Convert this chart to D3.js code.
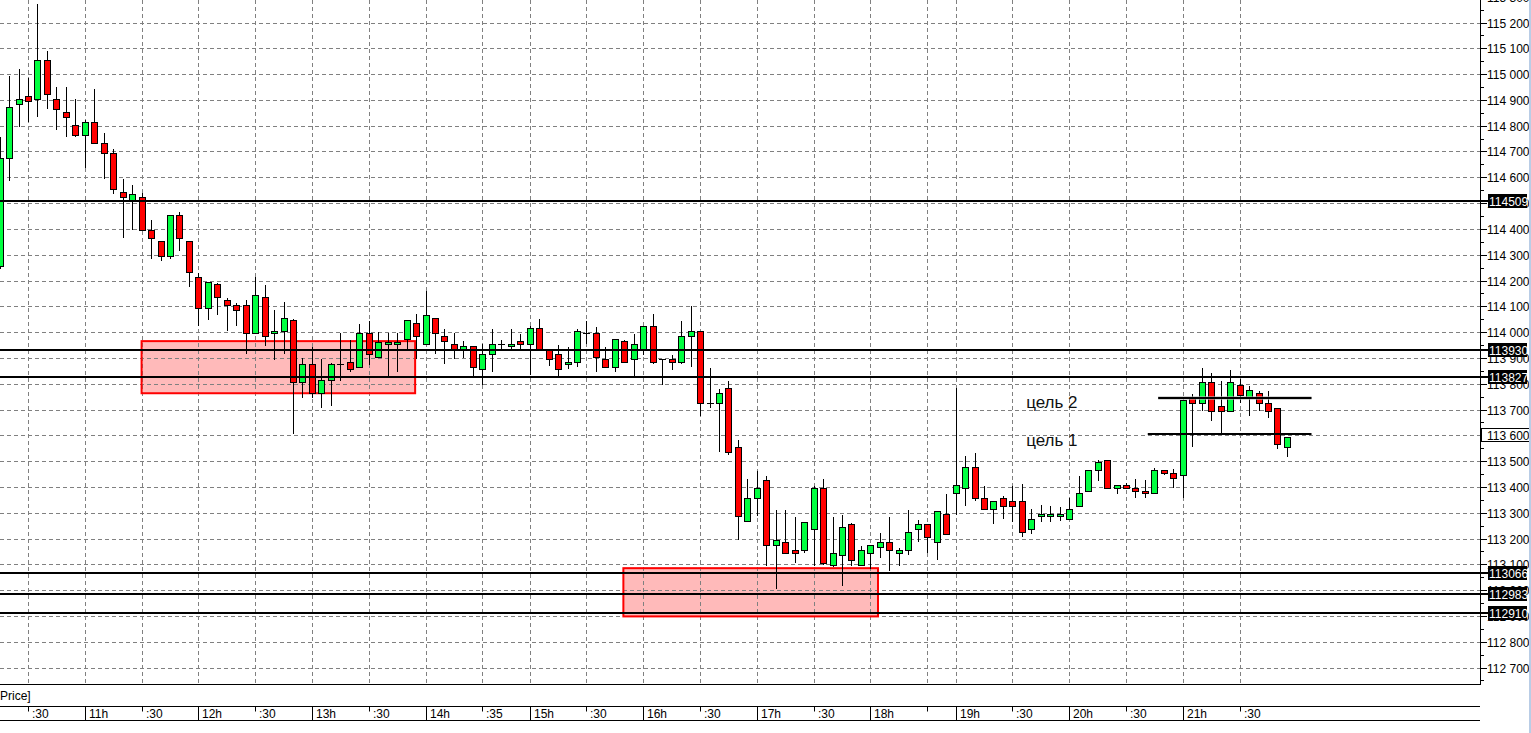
<!DOCTYPE html>
<html><head><meta charset="utf-8">
<script src="https://cdn.jsdelivr.net/npm/d3@7"></script>
<style>html,body{margin:0;padding:0;background:#fff;overflow:hidden}</style>
</head><body>
<svg id="chart" width="1531" height="733"></svg>
<script>
// ---------- data ----------
const openP = [114258,114676,114885,114916,114904,115055,114904,114854,114804,114765,
114815,114734,114695,114544,114509,114524,114397,114354,114296,114455,
114354,114214,114094,114187,114125,114106,114106,113997,114137,113997,
114005,114048,113807,113877,113765,113815,113877,113885,113866,113997,
113904,113955,113955,113974,114036,113955,114055,113986,113955,113935,
113947,113858,113916,113955,113947,113966,113955,114017,113935,113916,
113877,113885,113997,113997,113897,113866,113966,113897,113935,114024,
113897,113897,113885,113986,114004,113726,113726,113784,113555,113266,
113358,113428,113176,113187,113156,113156,113238,113397,113098,113137,
113257,113098,113145,113168,113187,113145,113156,113238,113257,113187,
113296,113377,113397,113478,113358,113315,113358,113346,113346,113238,
113288,113288,113288,113276,113327,113385,113466,113505,113397,113408,
113397,113385,113377,113466,113455,113447,113745,113726,113807,113714,
113695,113796,113745,113765,113726,113707,113555];
const highP = [114756,114991,115021,114984,115272,115091,114951,114951,114902,114824,
114943,114773,114711,114592,114572,114540,114433,114355,114455,114464,
114355,114228,114195,114191,114133,114114,114123,114213,114183,114084,
114115,114052,113900,113944,113897,113881,113997,113970,114032,114044,
114001,113997,113997,114048,114071,114160,114055,114013,113997,113966,
113947,113955,114013,113970,114013,113993,114022,114052,113935,113951,
113943,114013,114044,114021,113943,113974,113970,113993,114024,114072,
113897,113912,114044,114103,114004,113862,113780,113811,113583,113431,
113462,113443,113311,113311,113284,113265,113404,113431,113284,113292,
113261,113172,113176,113222,113284,113164,113311,113273,113257,113307,
113373,113784,113521,113533,113404,113346,113366,113404,113412,113315,
113331,113327,113323,113358,113443,113466,113505,113505,113408,113416,
113431,113428,113474,113466,113470,113738,113761,113862,113842,113811,
113854,113820,113792,113773,113773,113707,113594];
const lowP = [114250,114588,114797,114817,114837,114868,114786,114759,114759,114639,
114734,114597,114538,114368,114399,114397,114287,114279,114287,114317,
114180,114028,114052,114071,114009,114028,113918,113997,113949,113897,
113918,113608,113748,113748,113709,113717,113815,113850,113866,113877,
113904,113827,113850,113931,113900,113955,113920,113881,113900,113904,
113827,113800,113850,113931,113931,113935,113837,113931,113871,113825,
113862,113869,113959,113850,113866,113850,113885,113825,113916,113881,
113800,113858,113881,113867,113680,113709,113540,113528,113199,113266,
113292,113098,113009,113145,113110,113149,113098,113102,113092,113021,
113098,113098,113084,113128,113079,113098,113141,113191,113149,113121,
113218,113296,113331,113350,113315,113261,113280,113269,113211,113222,
113269,113269,113273,113276,113327,113385,113428,113397,113377,113397,
113362,113362,113377,113451,113400,113362,113559,113699,113660,113606,
113695,113730,113680,113699,113672,113552,113521];
const closeP = [114676,114873,114904,114897,115055,114924,114866,114835,114765,114815,
114734,114695,114556,114524,114536,114397,114366,114296,114455,114366,
114234,114094,114195,114137,114106,114087,113997,114145,113986,114005,
114055,113807,113877,113765,113815,113877,113877,113858,113997,113916,
113962,113962,113962,114048,113986,114067,113997,113966,113935,113947,
113866,113916,113955,113955,113955,113955,114017,113931,113897,113858,
113885,114005,113997,113904,113866,113974,113885,113955,114024,113885,
113897,113885,113986,114004,113726,113726,113765,113536,113288,113358,
113397,113176,113195,113145,113145,113265,113397,113106,113145,113245,
113117,113156,113176,113187,113156,113156,113226,113257,113207,113307,
113218,113408,113478,113358,113315,113346,113327,113327,113226,113276,
113296,113296,113296,113315,113377,113466,113497,113397,113408,113397,
113385,113377,113466,113455,113435,113738,113726,113807,113695,113695,
113807,113757,113776,113726,113695,113567,113594];

// time axis: bar index and label ("" = tick only)
const timeIdx    = [3, 9, 15, 21, 27, 33, 39, 45, 51, 56, 62, 68, 74, 80, 86, 92, 98, 101, 107, 113, 119, 125, 131];
const timeLabels = [":30","11h",":30","12h",":30","13h",":30","14h",":35","15h",":30","16h",":30","17h",":30","18h","","19h",":30","20h",":30","21h",":30"];

const levelPrices = [114509, 113930, 113827, 113066, 112983, 112910];
const levelLabels = ["114509", "113930", "113827", "113066", "112983", "112910"];

const zoneFrom = [15, 65.9], zoneTo = [43.9, 92.8];
const zoneTop = [113965, 113085], zoneBottom = [113763, 112898];

const targetLabels = ["цель 2", "цель 1"];
const targetPrices = [113745, 113604];
const targetFrom = [122.4, 121.3], targetTo = [138.6, 138.6];

const currentPrice = 113600;

// ---------- layout ----------
const W = 1531, H = 733;
const plotR = 1480, plotB = 684;
const svg = d3.select("#chart");
const x = d3.scaleLinear().domain([0, 156.4]).range([-0.4, plotR]);
const y = d3.scaleLinear().domain([112700, 115200]).range([667.5, 22.5]);
const FONT = "'Liberation Sans', Arial, sans-serif";
const GREEN = "#00ff40", RED = "#ff0000";
const fmt = d3.formatLocale({decimal: ".", thousands: " ", grouping: [3], currency: ["", ""]}).format(",");
const crisp = v => Math.round(v) + 0.5;

svg.append("rect").attr("width", W).attr("height", H).attr("fill", "#fff");

svg.append("defs").append("clipPath").attr("id", "plot")
  .append("rect").attr("x", 0).attr("y", 0).attr("width", plotR).attr("height", plotB);

const plot = svg.append("g").attr("clip-path", "url(#plot)");

// zone fills
const zones = zoneFrom.map((f, k) => ({f, t: zoneTo[k], top: zoneTop[k], bot: zoneBottom[k]}));
plot.selectAll(".zonefill").data(zones).join("rect")
  .attr("x", d => x(d.f)).attr("y", d => y(d.top))
  .attr("width", d => x(d.t) - x(d.f)).attr("height", d => y(d.bot) - y(d.top))
  .attr("fill", "#ffbaba");

// grid
const gridPrices = d3.range(112700, 115201, 100);
plot.selectAll(".hg").data(gridPrices).join("line")
  .attr("x1", 0).attr("x2", plotR)
  .attr("y1", d => crisp(y(d))).attr("y2", d => crisp(y(d)))
  .attr("stroke", "#808080").attr("stroke-dasharray", "4,3");
plot.selectAll(".vg").data(timeIdx).join("line")
  .attr("x1", d => crisp(x(d))).attr("x2", d => crisp(x(d)))
  .attr("y1", 0).attr("y2", plotB)
  .attr("stroke", "#808080").attr("stroke-dasharray", "4,3");

// zone borders
plot.selectAll(".zoneb").data(zones).join("rect")
  .attr("x", d => x(d.f)).attr("y", d => y(d.top))
  .attr("width", d => x(d.t) - x(d.f)).attr("height", d => y(d.bot) - y(d.top))
  .attr("fill", "none").attr("stroke", RED).attr("stroke-width", 2);

// level lines
svg.selectAll(".lvl").data(levelPrices).join("line")
  .attr("x1", 0).attr("x2", 1488)
  .attr("y1", d => Math.round(y(d))).attr("y2", d => Math.round(y(d)))
  .attr("stroke", "#000").attr("stroke-width", 2);

// candles
const bars = openP.map((o, i) => ({i, o, h: highP[i], l: lowP[i], c: closeP[i]}));
const cg = plot.append("g");
bars.forEach(d => {
  const c = Math.round(x(d.i));
  cg.append("line").attr("x1", c + 0.5).attr("x2", c + 0.5)
    .attr("y1", Math.round(y(d.h))).attr("y2", Math.round(y(d.l)) + 1)
    .attr("stroke", "#000").attr("stroke-width", 1);
  if (d.o === d.c) {
    const yy = crisp(y(d.o));
    cg.append("line").attr("x1", c - 3).attr("x2", c + 4).attr("y1", yy).attr("y2", yy)
      .attr("stroke", "#000").attr("stroke-width", 1);
  } else {
    const y1 = Math.round(y(Math.max(d.o, d.c))), y2 = Math.round(y(Math.min(d.o, d.c)));
    cg.append("rect").attr("x", c - 2.5).attr("y", y1 + 0.5)
      .attr("width", 6).attr("height", Math.max(1, y2 - y1))
      .attr("fill", d.c > d.o ? GREEN : RED)
      .attr("stroke", "#000").attr("stroke-width", 1);
  }
});

// target lines + labels
plot.append("line").attr("x1", x(targetFrom[0])).attr("x2", x(targetTo[0]))
  .attr("y1", y(targetPrices[0])).attr("y2", y(targetPrices[0]))
  .attr("stroke", "#bbb").attr("stroke-width", 4).attr("opacity", 0.6);
plot.selectAll(".tgt").data(targetPrices).join("line")
  .attr("x1", (d, k) => x(targetFrom[k])).attr("x2", (d, k) => x(targetTo[k]))
  .attr("y1", d => Math.round(y(d))).attr("y2", d => Math.round(y(d)))
  .attr("stroke", "#000").attr("stroke-width", 2);
const tgtText = [[108.45, 113707], [108.45, 113558]];
plot.selectAll(".tgtT").data(targetLabels).join("text")
  .attr("x", (d, k) => x(tgtText[k][0])).attr("y", (d, k) => y(tgtText[k][1]))
  .attr("font-family", FONT).attr("font-size", 17).attr("fill", "#111")
  .text(d => d);

// bottom border of plot
svg.append("line").attr("x1", 0).attr("x2", plotR + 1).attr("y1", plotB + 0.5).attr("y2", plotB + 0.5)
  .attr("stroke", "#000");

// right price axis
svg.append("line").attr("x1", plotR + 0.5).attr("x2", plotR + 0.5).attr("y1", 0).attr("y2", plotB + 1)
  .attr("stroke", "#000");
const tickPrices = d3.range(112650, 115351, 50);
svg.selectAll(".pt").data(tickPrices).join("line")
  .attr("x1", plotR + 1).attr("x2", d => d % 100 === 0 ? plotR + 7 : plotR + 4)
  .attr("y1", d => crisp(y(d))).attr("y2", d => crisp(y(d)))
  .attr("stroke", "#000");
svg.selectAll(".pl").data(tickPrices.filter(d => d % 100 === 0)).join("text")
  .attr("x", plotR + 7).attr("y", d => crisp(y(d)) + 4.5)
  .attr("font-family", FONT).attr("font-size", 12).attr("fill", "#000")
  .text(d => fmt(d));

// level labels
const lg = svg.selectAll(".lvlL").data(levelPrices).join("g")
  .attr("transform", d => `translate(1488,${Math.round(y(d)) - 7})`);
lg.append("rect").attr("width", 39).attr("height", 14).attr("fill", "#000");
lg.append("text").attr("x", 1).attr("y", 11.5)
  .attr("font-family", FONT).attr("font-size", 12).attr("fill", "#fff")
  .text((d, k) => levelLabels[k]);

// current price box
const cy = crisp(y(currentPrice));
svg.append("rect").attr("x", plotR + 1.5).attr("y", cy - 7).attr("width", 48).attr("height", 13)
  .attr("fill", "#fff").attr("stroke", "#000");
svg.append("text").attr("x", plotR + 7).attr("y", cy + 4.5)
  .attr("font-family", FONT).attr("font-size", 12).text(fmt(currentPrice));

// "Price]" caption
svg.append("text").attr("x", 0).attr("y", 700)
  .attr("font-family", FONT).attr("font-size", 12).text("Price]");

// time axis
const tTop = 706.5, tBot = 720.5;
[tTop, tBot].forEach(v => svg.append("line").attr("x1", 0).attr("x2", plotR)
  .attr("y1", v).attr("y2", v).attr("stroke", "#000"));
svg.selectAll(".tt").data(timeIdx).join("line")
  .attr("x1", d => crisp(x(d))).attr("x2", d => crisp(x(d)))
  .attr("y1", tTop).attr("y2", (d, k) => timeLabels[k].endsWith("h") ? tBot : tTop + 5)
  .attr("stroke", "#000");
svg.selectAll(".tl").data(timeIdx).join("text")
  .attr("x", d => crisp(x(d)) + 3.5).attr("y", 718)
  .attr("font-family", FONT).attr("font-size", 12)
  .text((d, k) => timeLabels[k]);

// window edge
svg.append("rect").attr("x", 1529).attr("y", 0).attr("width", 2).attr("height", H).attr("fill", "#b9cde6");
</script>
</body></html>
